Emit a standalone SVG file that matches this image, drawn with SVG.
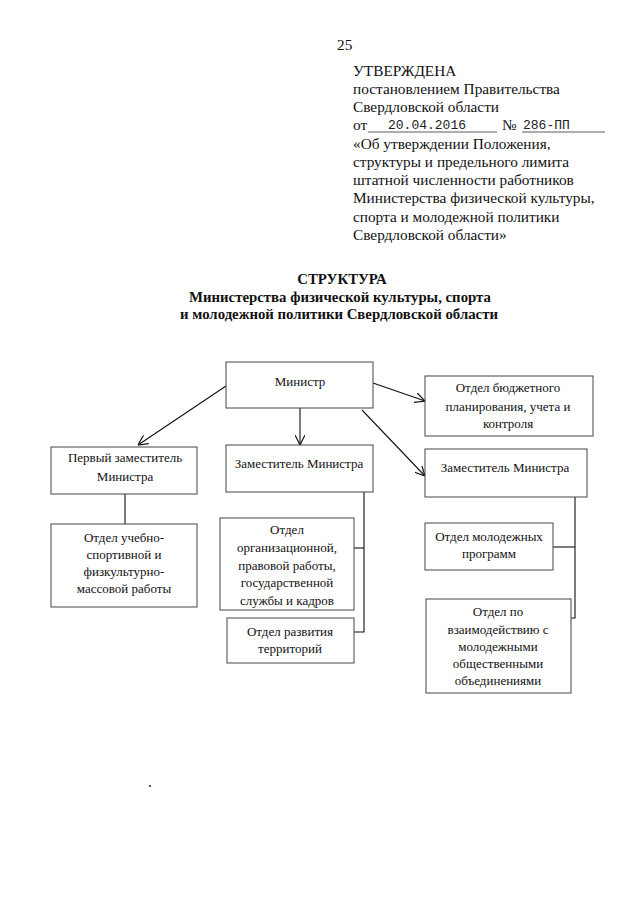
<svg xmlns="http://www.w3.org/2000/svg" width="640" height="905" viewBox="0 0 640 905">
<defs>
<style>
.t{font-family:"Liberation Serif","Times New Roman",serif;font-size:15.3px;fill:#111}
.b{font-family:"Liberation Serif","Times New Roman",serif;font-size:14.8px;font-weight:bold;fill:#111;text-anchor:middle}
.m{font-family:"Liberation Mono","Courier New",monospace;font-size:13px;fill:#222}
.n{font-family:"Liberation Serif","Times New Roman",serif;font-size:13px;fill:#111;text-anchor:middle}
.box{fill:#fff;stroke:#444;stroke-width:1}
.c{fill:none;stroke:#111;stroke-width:1.1}
.u{stroke:#333;stroke-width:0.8}
</style>
<marker id="ah" viewBox="0 0 10 10" refX="10" refY="5" markerWidth="10" markerHeight="10" markerUnits="userSpaceOnUse" orient="auto">
<path d="M0,0 L10,5 L0,10" fill="none" stroke="#111" stroke-width="1.2"/>
</marker>
</defs>
<rect width="640" height="905" fill="#fff"/>

<g id="header">
<text class="t" x="337" y="50">25</text>
<text class="t" x="353" y="76">УТВЕРЖДЕНА</text>
<text class="t" x="353" y="94">постановлением Правительства</text>
<text class="t" x="353" y="112">Свердловской области</text>
<text class="t" x="353" y="130">от</text>
<line class="u" x1="368" y1="132" x2="497" y2="132"/>
<text class="m" x="388" y="129">20.04.2016</text>
<text class="t" x="502" y="130">№</text>
<line class="u" x1="522" y1="132" x2="605" y2="132"/>
<text class="m" x="523" y="129">286-ПП</text>
<text class="t" x="353" y="149">«Об утверждении Положения,</text>
<text class="t" x="353" y="167">структуры и предельного лимита</text>
<text class="t" x="353" y="185">штатной численности работников</text>
<text class="t" x="353" y="203">Министерства физической культуры,</text>
<text class="t" x="353" y="222">спорта и молодежной политики</text>
<text class="t" x="353" y="240">Свердловской области»</text>
</g>

<g id="title">
<text class="b" x="342" y="284">СТРУКТУРА</text>
<text class="b" x="340" y="302">Министерства физической культуры, спорта</text>
<text class="b" x="339" y="319">и молодежной политики Свердловской области</text>
</g>

<g id="connectors">
<line class="c" x1="226" y1="386" x2="138" y2="445" marker-end="url(#ah)"/>
<line class="c" x1="300" y1="408" x2="300" y2="445" marker-end="url(#ah)"/>
<line class="c" x1="373" y1="383" x2="425" y2="401" marker-end="url(#ah)"/>
<line class="c" x1="362" y1="410" x2="425" y2="476" marker-end="url(#ah)"/>
<line class="c" x1="125" y1="494" x2="125" y2="524"/>
<polyline class="c" points="364,492 364,632 354,632"/>
<line class="c" x1="354" y1="548" x2="364" y2="548"/>
<polyline class="c" points="575,497 575,618 571,618"/>
<line class="c" x1="553" y1="547" x2="575" y2="547"/>
</g>

<g id="minister">
<rect class="box" x="226" y="362" width="147" height="46"/>
<text class="n" x="300" y="386">Министр</text>
</g>
<g id="first-deputy">
<rect class="box" x="51" y="447" width="146" height="47"/>
<text class="n" x="125" y="462">Первый заместитель</text>
<text class="n" x="125" y="481">Министра</text>
</g>
<g id="deputy-middle">
<rect class="box" x="226" y="445" width="147" height="47"/>
<text class="n" x="299" y="468">Заместитель Министра</text>
</g>
<g id="budget-dept">
<rect class="box" x="425" y="376" width="168" height="60"/>
<text class="n" x="508" y="392">Отдел бюджетного</text>
<text class="n" x="508" y="411">планирования, учета и</text>
<text class="n" x="508" y="428">контроля</text>
</g>
<g id="deputy-right">
<rect class="box" x="425" y="449" width="162" height="48"/>
<text class="n" x="505" y="472">Заместитель Министра</text>
</g>
<g id="sport-dept">
<rect class="box" x="51" y="524" width="146" height="83"/>
<text class="n" x="124" y="542">Отдел учебно-</text>
<text class="n" x="124" y="559">спортивной и</text>
<text class="n" x="124" y="576">физкультурно-</text>
<text class="n" x="124" y="593">массовой работы</text>
</g>
<g id="org-dept">
<rect class="box" x="220" y="518" width="134" height="92"/>
<text class="n" x="287" y="534">Отдел</text>
<text class="n" x="287" y="552">организационной,</text>
<text class="n" x="287" y="570">правовой работы,</text>
<text class="n" x="287" y="587">государственной</text>
<text class="n" x="287" y="605">службы и кадров</text>
</g>
<g id="territory-dept">
<rect class="box" x="227" y="618" width="127" height="45"/>
<text class="n" x="290" y="636">Отдел развития</text>
<text class="n" x="290" y="653">территорий</text>
</g>
<g id="youth-dept">
<rect class="box" x="425" y="523" width="128" height="47"/>
<text class="n" x="489" y="541">Отдел молодежных</text>
<text class="n" x="489" y="558">программ</text>
</g>
<g id="youth-assoc-dept">
<rect class="box" x="426" y="599" width="145" height="94"/>
<text class="n" x="498" y="616">Отдел по</text>
<text class="n" x="498" y="634">взаимодействию с</text>
<text class="n" x="498" y="651">молодежными</text>
<text class="n" x="498" y="668">общественными</text>
<text class="n" x="498" y="685">объединениями</text>
</g>
<rect x="149" y="785" width="2" height="2" fill="#555"/>
</svg>
